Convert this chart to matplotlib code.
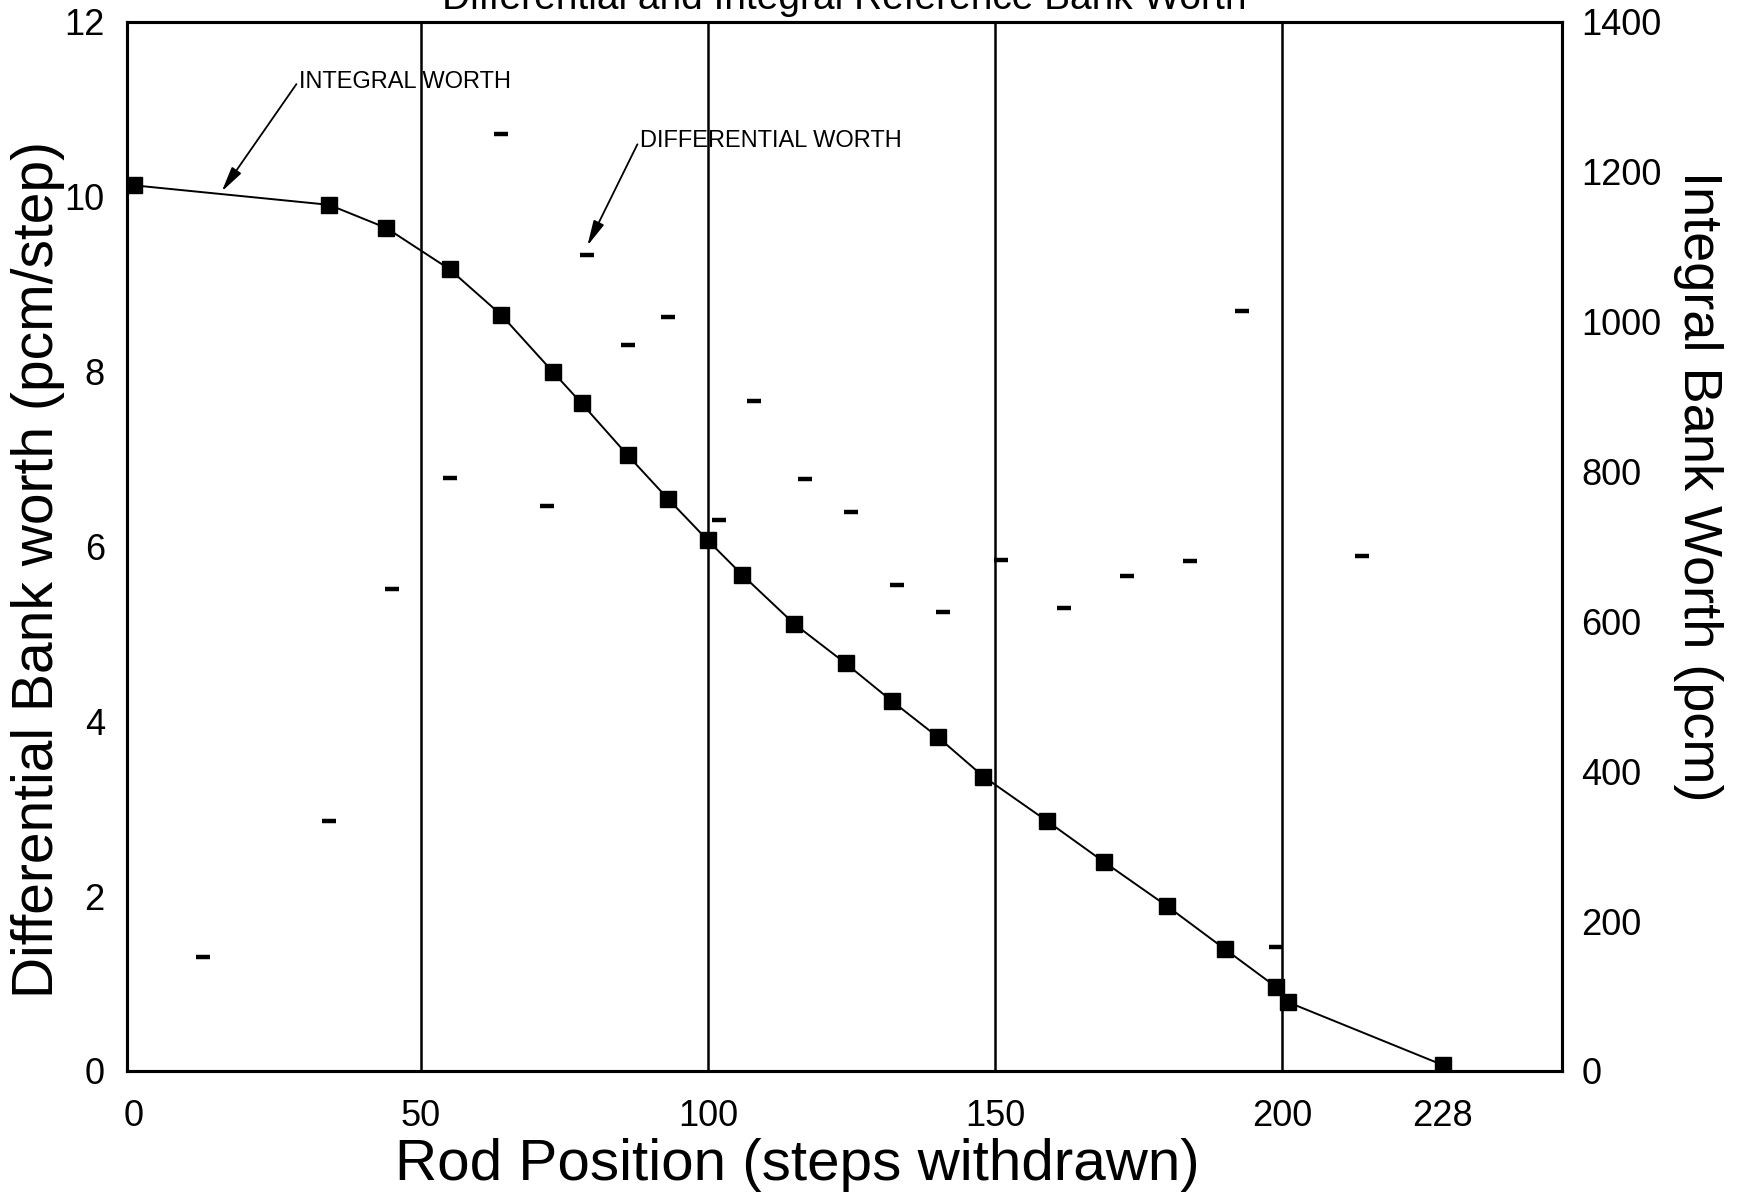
import matplotlib
matplotlib.use('Agg')
import matplotlib.pyplot as plt

plt.rcParams['font.family'] = ['Liberation Sans', 'DejaVu Sans']

# Integral bank worth (right axis, pcm)
int_steps = [0, 34, 44, 55, 64, 73, 78, 86, 93, 100, 106, 115, 124, 132,
             140, 148, 159, 169, 180, 190, 199, 201, 228]
int_worth = [1182, 1156, 1125, 1070, 1009, 933, 891, 822, 764, 708, 662, 597,
             544, 494, 446, 393, 334, 279, 220, 163, 112, 92, 8]

# Differential bank worth (left axis, pcm/step)
diff_steps = [12, 34, 45, 55, 64, 72, 79, 86, 93, 102, 108, 117, 125, 133,
              141, 151, 162, 173, 184, 193, 199, 214]
diff_worth = [1.30, 2.86, 5.51, 6.78, 10.72, 6.46, 9.34, 8.30, 8.63, 6.30, 7.67,
              6.77, 6.40, 5.56, 5.25, 5.84, 5.30, 5.66, 5.83, 8.69, 1.42, 5.89]

bank_lines = [50, 100, 150, 200]
x_ticks = [0, 50, 100, 150, 200, 228]
left_ticks = [0, 2, 4, 6, 8, 10, 12]
right_ticks = [0, 200, 400, 600, 800, 1000, 1200, 1400]

fig = plt.figure(figsize=(17.37, 12.02), dpi=100)
ax = fig.add_axes([0.0731, 0.109, 0.8262, 0.8727])
ax2 = ax.twinx()

for x in bank_lines:
    ax.axvline(x, color='black', lw=1.8)

ax.plot(diff_steps, diff_worth, linestyle='none', marker='_', markersize=10,
        markeredgewidth=3.2, color='black')
ax2.plot(int_steps, int_worth, color='black', lw=1.4, marker='s',
         markersize=11, markerfacecolor='black')

ax.set_xlim(-1.2, 248.8)
ax.set_ylim(0, 12)
ax2.set_ylim(0, 1400)

ax.set_xticks(x_ticks)
ax.set_yticks(left_ticks)
ax2.set_yticks(right_ticks)
ax.tick_params(axis='x', length=0, pad=20, labelsize=26)
ax.tick_params(axis='y', length=0, pad=16, labelsize=26)
ax2.tick_params(axis='y', length=0, pad=14, labelsize=26)

for a in (ax, ax2):
    for s in a.spines.values():
        s.set_linewidth(2.2)

ax.set_xlabel('Rod Position (steps withdrawn)', fontsize=42)
ax.xaxis.set_label_coords(0.467, -0.064)
ax.set_ylabel('Differential Bank worth (pcm/step)', fontsize=41)
ax.yaxis.set_label_coords(-0.043, 0.478)
ax2.set_ylabel('Integral Bank Worth (pcm)', fontsize=39, rotation=-90,
               va='bottom')
ax2.yaxis.set_label_coords(1.077, 0.557)

arrow = dict(arrowstyle='-|>,head_length=0.9,head_width=0.2', color='black',
             lw=1.3, shrinkA=0, shrinkB=0, relpos=(0, 0.6))
ax.annotate('INTEGRAL WORTH', xy=(15.3, 10.06), xytext=(28.8, 11.31),
            fontsize=17, ha='left', va='center', arrowprops=arrow)
ax.annotate('DIFFERENTIAL WORTH', xy=(79.0, 9.44), xytext=(88.2, 10.64),
            fontsize=17, ha='left', va='center', arrowprops=arrow)

fig.text(0.486, 0.9925, 'Differential and Integral Reference Bank Worth',
         fontsize=28, ha='center', va='baseline')

fig.savefig('out.png', dpi=100)
